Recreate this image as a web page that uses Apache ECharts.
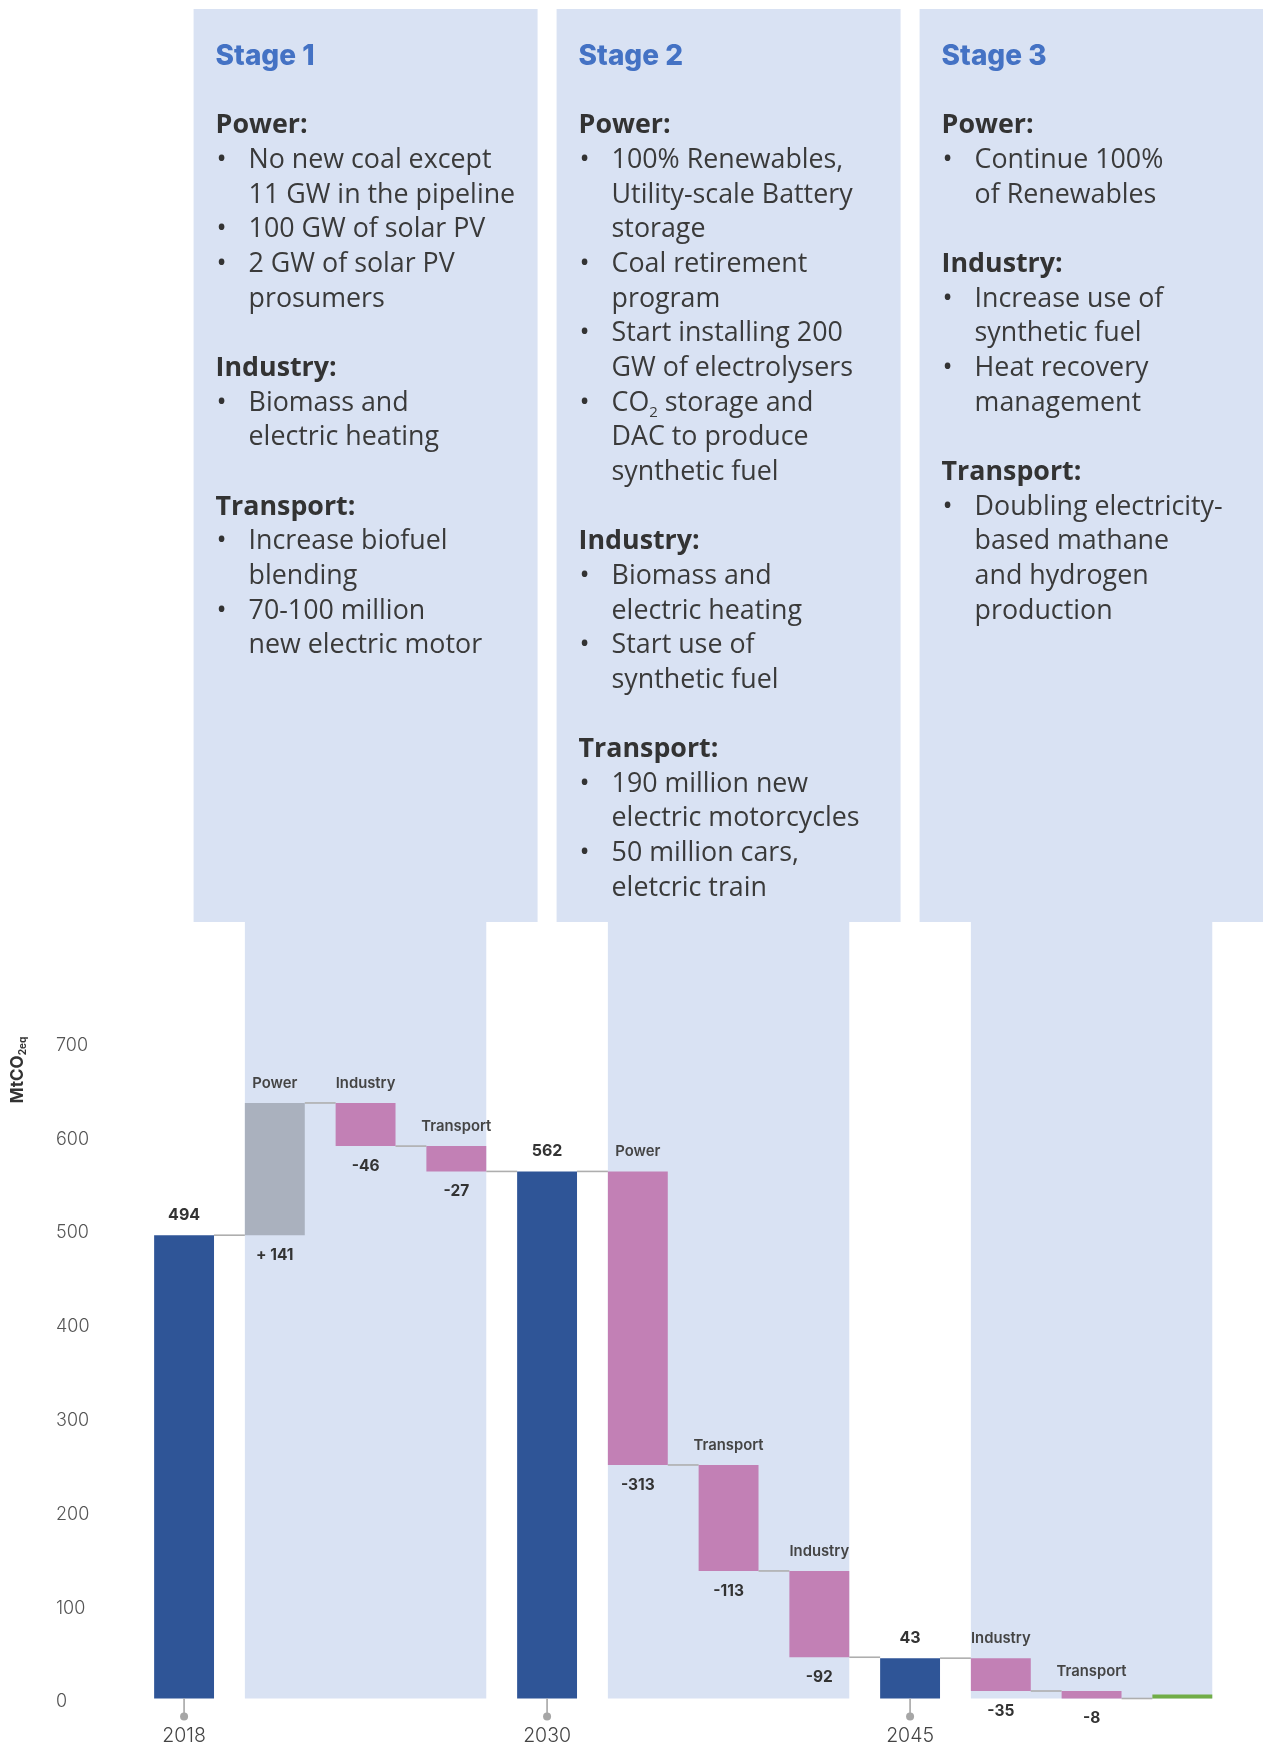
<!DOCTYPE html>
<html>
<head>
<meta charset="utf-8">
<script src="https://cdn.jsdelivr.net/npm/echarts@6/dist/echarts.min.js"></script>
<style>
  html, body { margin: 0; padding: 0; background: #ffffff; }
  #chart { width: 1263px; height: 1749px; }
</style>
</head>
<body>
<div id="chart"></div>
<script>
// ---- Emission pathway data (MtCO2eq) ----
const categories = ['2018', 'Power', 'Industry', 'Transport', '2030', 'Power', 'Transport', 'Industry', '2045', 'Industry', 'Transport', '2050'];
const changes    = [494, 141, -46, -27, 562, -313, -113, -92, 43, -35, -8, 0];
const kinds      = ['total', 'delta', 'delta', 'delta', 'total', 'delta', 'delta', 'delta', 'total', 'delta', 'delta', 'final'];
const yearLabels = ['2018', '2030', '2045'];
const yTickValues = [0, 100, 200, 300, 400, 500, 600, 700];

// ---- Stage notes (first/last category index covered by each stage) ----
const stageTitles = ['Stage 1', 'Stage 2', 'Stage 3'];
const stageSpans  = [[1, 3], [5, 7], [9, 11]];
// '#' = heading, '*' = bullet, ' ' = continuation, '' = empty line
const stageNotes = [
  ['#Power:', '*No new coal except', ' 11 GW in the pipeline', '*100 GW of solar PV', '*2 GW of solar PV', ' prosumers', '',
   '#Industry:', '*Biomass and', ' electric heating', '',
   '#Transport:', '*Increase biofuel', ' blending', '*70-100 million', ' new electric motor'],
  ['#Power:', '*100% Renewables,', ' Utility-scale Battery', ' storage', '*Coal retirement', ' program', '*Start installing 200', ' GW of electrolysers',
   '*CO{sub|2} storage and', ' DAC to produce', ' synthetic fuel', '',
   '#Industry:', '*Biomass and', ' electric heating', '*Start use of', ' synthetic fuel', '',
   '#Transport:', '*190 million new', ' electric motorcycles', '*50 million cars,', ' eletcric train'],
  ['#Power:', '*Continue 100%', ' of Renewables', '',
   '#Industry:', '*Increase use of', ' synthetic fuel', '*Heat recovery', ' management', '',
   '#Transport:', '*Doubling electricity-', ' based mathane', ' and hydrogen', ' production']
];

// ---- Styling ----
const COLORS = { total: '#2F5597', up: '#AAB1BE', down: '#C280B5', final: '#70AD47' };
const PANEL = '#D9E2F3';
const LINK = '#AEAEAE';
const LABEL_FONT = 'Inter, "Open Sans", sans-serif';
const NOTE_FONT = '"Open Sans", sans-serif';
const NOTE_SIZE = 26.8;
const BAR_RATIO = 0.66;

// ---- Waterfall geometry derived from the changes ----
const bases = [], heights = [], levels = [];
let running = 0;
changes.forEach((v, i) => {
  if (kinds[i] === 'delta') {
    const start = running, end = running + v;
    bases.push(Math.min(start, end));
    heights.push(Math.abs(v));
    running = end;
  } else {
    bases.push(0);
    heights.push(v);
    running = v;
  }
  levels.push(running);
});

function barColor(i) {
  if (kinds[i] === 'total') return COLORS.total;
  if (kinds[i] === 'final') return COLORS.final;
  return changes[i] > 0 ? COLORS.up : COLORS.down;
}
function deltaText(v) { return v > 0 ? '+ ' + v : String(v); }

const chart = echarts.init(document.getElementById('chart'), null, { renderer: 'canvas' });

const option = {
  animation: false,
  backgroundColor: '#ffffff',
  grid: { left: 138.7, right: 35.3, top: 1042, bottom: 50.5, containLabel: false },
  xAxis: {
    type: 'category',
    data: categories,
    axisLine: { show: false },
    axisTick: { show: false },
    axisLabel: {
      interval: (idx, val) => kinds[idx] === 'total' && yearLabels.indexOf(val) >= 0,
      margin: 28,
      fontFamily: LABEL_FONT,
      fontWeight: 300,
      fontSize: 19.5,
      color: '#444'
    },
    splitLine: { show: false }
  },
  yAxis: {
    type: 'value',
    min: yTickValues[0],
    max: yTickValues[yTickValues.length - 1],
    interval: 100,
    axisLine: { show: false },
    axisTick: { show: false },
    splitLine: { show: false },
    axisLabel: {
      align: 'left',
      verticalAlign: 'top',
      lineHeight: 7,
      margin: 82.7,
      fontFamily: LABEL_FONT,
      fontWeight: 300,
      fontSize: 18,
      color: '#555'
    }
  },
  series: [
    {
      // connector lines between consecutive bars
      type: 'custom',
      silent: true,
      z: 1,
      data: levels.slice(0, -1).map((lv, i) => [i, lv]),
      renderItem: (params, api) => {
        const i = api.value(0), lv = api.value(1);
        const p1 = api.coord([i, lv]);
        const p2 = api.coord([i + 1, lv]);
        const half = api.size([1, 0])[0] * BAR_RATIO / 2;
        return {
          type: 'line',
          shape: { x1: p1[0] + half, y1: p1[1], x2: p2[0] - half, y2: p2[1] },
          style: { stroke: LINK, lineWidth: 1.6 }
        };
      }
    },
    {
      type: 'bar',
      stack: 'waterfall',
      silent: true,
      barWidth: (BAR_RATIO * 100) + '%',
      itemStyle: { color: 'transparent' },
      emphasis: { disabled: true },
      data: bases
    },
    {
      type: 'bar',
      stack: 'waterfall',
      silent: true,
      barWidth: (BAR_RATIO * 100) + '%',
      barMinHeight: 4,
      z: 3,
      emphasis: { disabled: true },
      data: heights.map((h, i) => ({ value: h, itemStyle: { color: barColor(i) } })),
      label: {
        show: true,
        position: 'top',
        distance: 12,
        formatter: (p) => {
          const k = kinds[p.dataIndex];
          if (k === 'total') return '{v|' + changes[p.dataIndex] + '}';
          if (k === 'delta') return '{n|' + categories[p.dataIndex] + '}';
          return '';
        },
        rich: {
          v: { fontFamily: LABEL_FONT, fontWeight: 700, fontSize: 16, color: '#333' },
          n: { fontFamily: LABEL_FONT, fontWeight: 600, fontSize: 14.8, color: '#444' }
        }
      }
    },
    {
      // change values written under each floating bar
      type: 'custom',
      silent: true,
      z: 4,
      data: changes.map((v, i) => [i, bases[i]]).filter((d, i) => kinds[i] === 'delta'),
      renderItem: (params, api) => {
        const i = api.value(0);
        const p = api.coord([i, api.value(1)]);
        return {
          type: 'text',
          x: p[0], y: p[1] + 20,
          style: {
            text: deltaText(changes[i]),
            align: 'center', verticalAlign: 'middle',
            fontFamily: LABEL_FONT, fontWeight: 700, fontSize: 15.5, fill: '#333'
          }
        };
      }
    },
    {
      // year tick markers with a dot
      type: 'custom',
      silent: true,
      z: 4,
      data: categories.map((c, i) => [i, 0]).filter((d, i) => kinds[i] === 'total'),
      renderItem: (params, api) => {
        const p = api.coord([api.value(0), 0]);
        return {
          type: 'group',
          children: [
            { type: 'line', shape: { x1: p[0], y1: p[1], x2: p[0], y2: p[1] + 16 }, style: { stroke: '#A6A6A6', lineWidth: 1.6 } },
            { type: 'circle', shape: { cx: p[0], cy: p[1] + 18, r: 4 }, style: { fill: '#A6A6A6' } }
          ]
        };
      }
    }
  ]
};

chart.setOption(option);

// ---- Stage panels and notes, aligned to the bar positions ----
const px = (i) => chart.convertToPixel({ xAxisIndex: 0 }, i);
const zeroY = chart.convertToPixel({ yAxisIndex: 0 }, 0);
const band = px(1) - px(0);
const barW = band * BAR_RATIO;

const BOX_TOP = 9, BOX_BOTTOM = 922, BOX_W = 344;
const LINE0 = 56.5, LINE_STEP = 34.65;
const graphics = [];

stageSpans.forEach((span, s) => {
  const colL = px(span[0]) - barW / 2;
  const colR = px(span[1]) + barW / 2;
  const cx = (colL + colR) / 2;
  const boxL = cx - BOX_W / 2;

  graphics.push({
    type: 'rect', z: -10, silent: true,
    shape: { x: colL, y: BOX_BOTTOM - 1, width: colR - colL, height: zeroY - BOX_BOTTOM + 1 },
    style: { fill: PANEL }
  });
  graphics.push({
    type: 'rect', z: -10, silent: true,
    shape: { x: boxL, y: BOX_TOP, width: BOX_W, height: BOX_BOTTOM - BOX_TOP },
    style: { fill: PANEL }
  });
  graphics.push({
    type: 'text', z: -5, silent: true,
    x: boxL + 22, y: LINE0,
    style: {
      text: stageTitles[s], align: 'left', verticalAlign: 'middle',
      fontFamily: LABEL_FONT, fontWeight: 800, fontSize: 28, fill: '#4472C4'
    }
  });

  stageNotes[s].forEach((line, k) => {
    if (!line) return;
    const y = LINE0 + (k + 2) * LINE_STEP;
    const tag = line[0];
    const body = line.slice(1);
    if (tag === '#') {
      graphics.push({
        type: 'text', z: -5, silent: true, x: boxL + 22, y: y,
        style: { text: body, align: 'left', verticalAlign: 'middle', fontFamily: NOTE_FONT, fontWeight: 700, fontSize: NOTE_SIZE, fill: '#333' }
      });
      return;
    }
    if (tag === '*') {
      graphics.push({
        type: 'text', z: -5, silent: true, x: boxL + 23, y: y,
        style: { text: '•', align: 'left', verticalAlign: 'middle', fontFamily: NOTE_FONT, fontSize: 27, fill: '#333' }
      });
    }
    graphics.push({
      type: 'text', z: -5, silent: true, x: boxL + 55, y: y,
      style: {
        text: body, align: 'left', verticalAlign: 'middle',
        fontFamily: NOTE_FONT, fontSize: NOTE_SIZE, fill: '#3a3a3a', lineHeight: 34,
        rich: {
          sub: { fontFamily: NOTE_FONT, fontSize: 15, fill: '#3a3a3a', verticalAlign: 'bottom', lineHeight: 20 }
        }
      }
    });
  });
});

// axis unit, written vertically
graphics.push({
  type: 'text', silent: true,
  x: 18, y: 1070, rotation: Math.PI / 2,
  style: {
    text: 'MtCO{s|2eq}', align: 'center', verticalAlign: 'middle',
    fontFamily: LABEL_FONT, fontWeight: 700, fontSize: 17, fill: '#333', lineHeight: 20,
    rich: { s: { fontFamily: LABEL_FONT, fontWeight: 700, fontSize: 10, fill: '#333', verticalAlign: 'bottom', lineHeight: 13 } }
  }
});

chart.setOption({ graphic: graphics });
</script>
</body>
</html>
